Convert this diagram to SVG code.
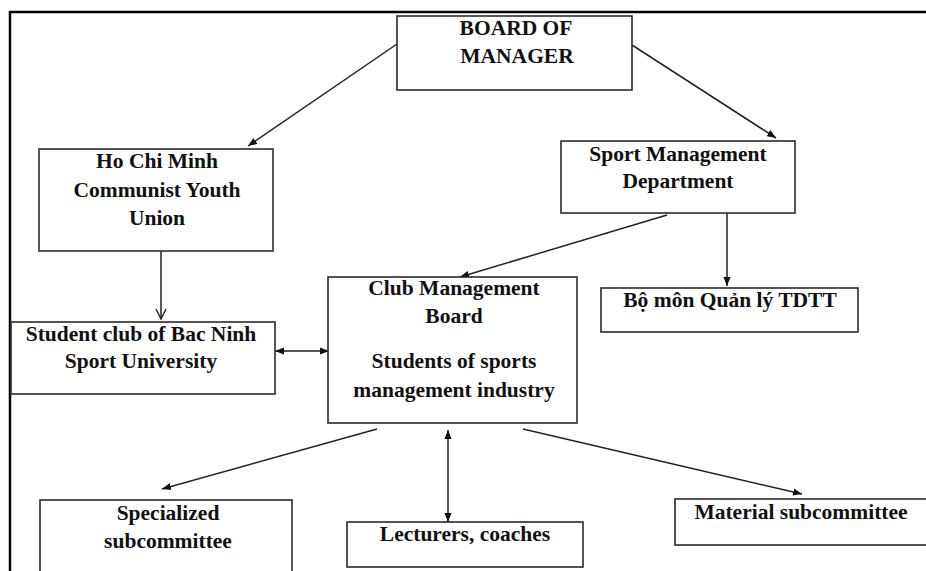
<svg xmlns="http://www.w3.org/2000/svg" width="926" height="571" viewBox="0 0 926 571">
  <defs>
    <style>
      .box { fill: #ffffff; stroke: #2b2b2b; stroke-width: 1.6; }
      .lbl { font-family: "Liberation Serif", "Times New Roman", serif; font-weight: bold; font-size: 21.5px; fill: #111; text-anchor: middle; }
      .edge { fill: none; stroke: #222; stroke-width: 1.5; }
      .frame { fill: none; stroke: #000; stroke-width: 2.5; }
    </style>
    <marker id="tip" viewBox="0 0 10 8" refX="10" refY="4" markerWidth="9" markerHeight="7.5" markerUnits="userSpaceOnUse" orient="auto-start-reverse">
      <path d="M0,0 L10,4 L0,8 z" fill="#111"/>
    </marker>
    <marker id="vee" viewBox="0 0 12 12" refX="11" refY="6" markerWidth="12" markerHeight="12" markerUnits="userSpaceOnUse" orient="auto">
      <path d="M1,1 L11,6 L1,11" fill="none" stroke="#222" stroke-width="1.4"/>
    </marker>
  </defs>

  <rect width="926" height="571" fill="#ffffff"/>

  <!-- page frame -->
  <polyline class="frame" points="10,571 10,12 926,12"/>

  <!-- connectors -->
  <g id="connectors">
    <line class="edge" x1="397" y1="44" x2="248" y2="146" marker-end="url(#tip)"/>
    <line class="edge" x1="632" y1="45" x2="776" y2="138" marker-end="url(#tip)"/>
    <line class="edge" x1="161" y1="251" x2="161" y2="319" marker-end="url(#vee)"/>
    <line class="edge" x1="275" y1="351" x2="329" y2="351" marker-start="url(#tip)" marker-end="url(#tip)"/>
    <line class="edge" x1="667" y1="215" x2="460" y2="277" marker-end="url(#tip)"/>
    <line class="edge" x1="727" y1="213" x2="727" y2="286" marker-end="url(#tip)"/>
    <line class="edge" x1="377" y1="429" x2="162" y2="489" marker-end="url(#tip)"/>
    <line class="edge" x1="448" y1="430" x2="448" y2="522" marker-start="url(#tip)" marker-end="url(#tip)"/>
    <line class="edge" x1="523" y1="429" x2="802" y2="494" marker-end="url(#tip)"/>
  </g>

  <g id="board">
    <rect class="box" x="397" y="16" width="235" height="74"/>
    <text class="lbl" x="516" y="35">BOARD OF</text>
    <text class="lbl" x="517" y="63">MANAGER</text>
  </g>

  <g id="youth-union">
    <rect class="box" x="39" y="149" width="234" height="102"/>
    <text class="lbl" x="157" y="168">Ho Chi Minh</text>
    <text class="lbl" x="157" y="197">Communist Youth</text>
    <text class="lbl" x="157" y="225">Union</text>
  </g>

  <g id="sport-dept">
    <rect class="box" x="561" y="141" width="234" height="72"/>
    <text class="lbl" x="678" y="161">Sport Management</text>
    <text class="lbl" x="678" y="188">Department</text>
  </g>

  <g id="student-club">
    <rect class="box" x="11" y="322" width="264" height="72"/>
    <text class="lbl" x="141" y="341">Student club of Bac Ninh</text>
    <text class="lbl" x="141" y="368">Sport University</text>
  </g>

  <g id="club-board">
    <rect class="box" x="328" y="277" width="249" height="146"/>
    <text class="lbl" x="454" y="295">Club Management</text>
    <text class="lbl" x="454" y="323">Board</text>
    <text class="lbl" x="454" y="368">Students of sports</text>
    <text class="lbl" x="454" y="397">management industry</text>
  </g>

  <g id="bo-mon">
    <rect class="box" x="601" y="288" width="257" height="44"/>
    <text class="lbl" x="730" y="307">Bộ môn Quản lý TDTT</text>
  </g>

  <g id="specialized">
    <rect class="box" x="40" y="500" width="252" height="80"/>
    <text class="lbl" x="168" y="520">Specialized</text>
    <text class="lbl" x="168" y="548">subcommittee</text>
  </g>

  <g id="lecturers">
    <rect class="box" x="347" y="522" width="236" height="45"/>
    <text class="lbl" x="465" y="541">Lecturers, coaches</text>
  </g>

  <g id="material">
    <rect class="box" x="675" y="499" width="260" height="46"/>
    <text class="lbl" x="801" y="519">Material subcommittee</text>
  </g>
</svg>
